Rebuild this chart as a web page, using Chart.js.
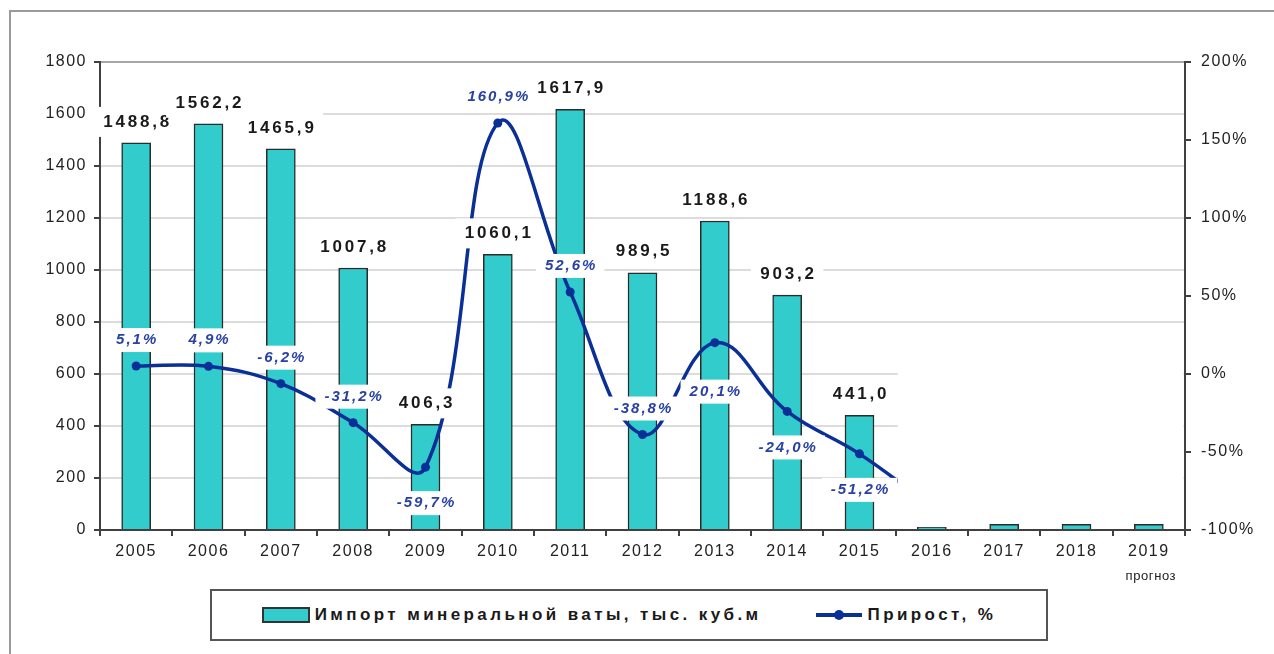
<!DOCTYPE html>
<html>
<head>
<meta charset="utf-8">
<script src="https://cdn.jsdelivr.net/npm/chart.js@4.4.1/dist/chart.umd.min.js"></script>
<style>
  html, body { margin: 0; padding: 0; background: #fff; }
  #wrap { position: relative; width: 1274px; height: 654px; overflow: hidden; }
  #legend {
    position: absolute; left: 210px; top: 589px; width: 838px; height: 52px;
    box-sizing: border-box; border: 2px solid #555; background: #fff;
    display: flex; align-items: center; justify-content: center;
    font: bold 17px "Liberation Sans", Arial, sans-serif; letter-spacing: 3.4px; color: #1a1a1a;
  }
  #legend .item { display: flex; align-items: center; margin: 0 27px; }
  #legend .box { width: 44px; height: 12px; background: #33cccc; border: 2px solid #333; margin-right: 5px; }
  #legend .ln { position: relative; width: 46px; height: 4px; background: #0a2f96; margin-right: 6px; }
  #legend .ln::after { content: ""; position: absolute; left: 18px; top: -3px; width: 10px; height: 10px; border-radius: 50%; background: #0a2f96; }
</style>
</head>
<body>
<div id="wrap">
  <canvas id="chart"></canvas>
  <div id="legend"></div>
</div>
<script>
const years = ['2005', '2006', '2007', '2008', '2009', '2010', '2011', '2012', '2013', '2014', '2015', '2016', '2017', '2018', '2019'];
const importVolume = [1488.8, 1562.2, 1465.9, 1007.8, 406.3, 1060.1, 1617.9, 989.5, 1188.6, 903.2, 441.0, 10, 22, 22, 22];
// 2016 growth is hidden behind the blanked area in the source, only the start of the segment shows
const growthPct = [5.1, 4.9, -6.2, -31.2, -59.7, 160.9, 52.6, -38.8, 20.1, -24.0, -51.2, -85, null, null, null];
const growthLabelSide = ['above', 'above', 'above', 'above', 'below', 'above', 'above', 'above', 'lower', 'below', 'below'];
const actualCount = 11;
const forecastNote = 'прогноз';
const seriesNames = ['Импорт минеральной ваты, тыс. куб.м', 'Прирост, %'];

const fmt = v => v.toFixed(1).replace('.', ',');
const SP = 1.5;
const labelShift = { above: -26, below: 36, lower: 49 };

function tag(ctx, text, cx, cy, size, font, color, px, py, sp) {
  ctx.letterSpacing = sp + 'px';
  ctx.font = font;
  const w = ctx.measureText(text).width;
  ctx.fillStyle = '#fff';
  ctx.fillRect(cx - w / 2 - px, cy - size / 2 - py, w + px * 2, size + py * 2);
  ctx.fillStyle = color;
  ctx.textAlign = 'center';
  ctx.textBaseline = 'middle';
  ctx.fillText(text, cx + sp / 2, cy);
}

// x where the source picture is blanked out (between 2015 and 2016)
function blankX(chart) {
  const x = chart.scales.x;
  return (x.getPixelForValue(actualCount - 1) + x.getPixelForValue(actualCount)) / 2 + 2;
}

const extras = {
  id: 'extras',
  beforeLayout(chart) { chart.ctx.letterSpacing = SP + 'px'; },
  beforeDraw(chart) {
    const ctx = chart.ctx;
    ctx.letterSpacing = SP + 'px';
    ctx.save();
    ctx.strokeStyle = '#9a9a9a';
    ctx.lineWidth = 2;
    ctx.strokeRect(10, 11, chart.width + 40, chart.height + 40);
    ctx.restore();
  },
  beforeDatasetsDraw(chart) {
    const ctx = chart.ctx, y = chart.scales.y;
    const mx = blankX(chart);
    const top = y.getPixelForValue(790), bottom = y.getPixelForValue(0) - 1.5;
    ctx.save();
    ctx.fillStyle = '#fff';
    ctx.fillRect(mx, top, chart.chartArea.right - 1.5 - mx, bottom - top);
    ctx.restore();
  },
  beforeDatasetDraw(chart, args) {
    if (args.index !== 0) return;
    const ctx = chart.ctx;
    ctx.save();
    ctx.beginPath();
    ctx.rect(0, 0, blankX(chart), chart.height);
    ctx.clip();
  },
  afterDatasetDraw(chart, args) {
    if (args.index !== 0) return;
    chart.ctx.restore();
  },
  afterDatasetsDraw(chart) {
    const ctx = chart.ctx;
    ctx.save();
    const bars = chart.getDatasetMeta(1).data;
    const pts = chart.getDatasetMeta(0).data;
    for (let i = 0; i < actualCount; i++) {
      const b = bars[i];
      tag(ctx, fmt(importVolume[i]), b.x, b.y - 21, 14, 'bold 17px "Liberation Sans", Arial', '#1a1a1a', 8, 8, 2.8);
    }
    for (let i = 0; i < actualCount; i++) {
      const p = pts[i];
      tag(ctx, fmt(growthPct[i]) + '%', p.x, p.y + labelShift[growthLabelSide[i]], 14,
        'italic bold 15px "Liberation Sans", Arial', '#2842a4', 8, 5, 2);
    }
    ctx.restore();
    ctx.letterSpacing = SP + 'px';
  },
  afterDraw(chart) {
    const ctx = chart.ctx;
    const x = chart.scales.x;
    ctx.save();
    ctx.letterSpacing = '0.6px';
    ctx.font = '13px "Liberation Sans", Arial';
    ctx.fillStyle = '#222';
    ctx.textAlign = 'center';
    ctx.textBaseline = 'middle';
    ctx.fillText(forecastNote, x.getPixelForValue(years.length - 1) + 2, chart.chartArea.bottom + 46);
    ctx.restore();
  }
};

const tickFont = { family: '"Liberation Sans", Arial, sans-serif', size: 16 };

const chart = new Chart(document.getElementById('chart'), {
  data: {
    labels: years,
    datasets: [
      {
        type: 'line',
        label: seriesNames[1],
        data: growthPct,
        yAxisID: 'y1',
        borderColor: '#0a2f96',
        backgroundColor: '#0a2f96',
        borderWidth: 3.5,
        tension: 0.4,
        pointRadius: ctx => ctx.dataIndex < actualCount ? 4.5 : 0,
        pointBorderWidth: 0,
        order: 0
      },
      {
        type: 'bar',
        label: seriesNames[0],
        data: importVolume,
        yAxisID: 'y',
        backgroundColor: '#33cccc',
        borderColor: '#2b2b2b',
        borderWidth: 1.5,
        borderSkipped: 'bottom',
        barThickness: 29,
        order: 1
      }
    ]
  },
  options: {
    responsive: true,
    maintainAspectRatio: false,
    animation: false,
    layout: { padding: { top: 62, left: 0, right: 0, bottom: 0 } },
    plugins: { legend: { display: false }, tooltip: { enabled: false } },
    scales: {
      x: {
        grid: { offset: true, drawOnChartArea: false, tickLength: 6, tickColor: '#404040', lineWidth: 2 },
        border: { color: '#404040', width: 2 },
        ticks: { font: tickFont, color: '#222', padding: 6, maxRotation: 0 },
        afterFit(s) { s.height = 124; }
      },
      y: {
        position: 'left',
        min: 0, max: 1800,
        ticks: { stepSize: 200, font: tickFont, color: '#222', padding: 7, callback: v => String(v) },
        grid: {
          color: c => c.tick && c.tick.value === 1800 ? '#a6a6a6' : '#dcdcdc',
          lineWidth: 2, tickLength: 6, tickColor: '#404040'
        },
        border: { color: '#404040', width: 2 },
        afterFit(s) { s.width = 100; }
      },
      y1: {
        position: 'right',
        min: -100, max: 200,
        ticks: { stepSize: 50, font: tickFont, color: '#222', padding: 10, callback: v => v + '%' },
        grid: { drawOnChartArea: false, tickLength: 6, tickColor: '#404040', lineWidth: 2 },
        border: { color: '#404040', width: 2 },
        afterFit(s) { s.width = 89; }
      }
    }
  },
  plugins: [extras]
});

// legend box
const legend = document.getElementById('legend');
[chart.data.datasets[1], chart.data.datasets[0]].forEach(ds => {
  const item = document.createElement('div');
  item.className = 'item';
  const mark = document.createElement('span');
  mark.className = ds.type === 'bar' ? 'box' : 'ln';
  const txt = document.createElement('span');
  txt.textContent = ds.label;
  item.appendChild(mark);
  item.appendChild(txt);
  legend.appendChild(item);
});
</script>
</body>
</html>
